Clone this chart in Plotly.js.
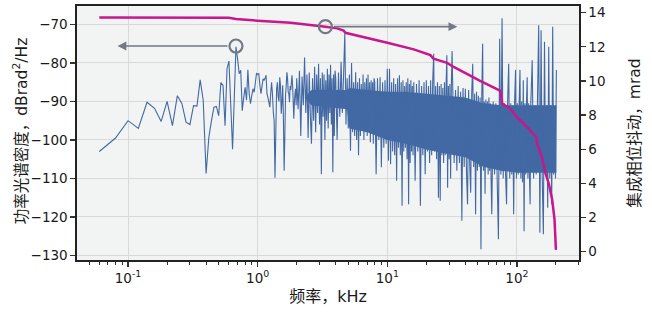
<!DOCTYPE html>
<html>
<head>
<meta charset="utf-8">
<script src="https://cdn.plot.ly/plotly-3.0.1.min.js"></script>
<style>html,body{margin:0;padding:0;background:#fff;}#chart{width:652px;height:316px;}</style>
</head>
<body>
<div id="chart"></div>
<script>
// ---- PSD, low-frequency part: FFT bins from 0.06 kHz, 0.02 kHz apart ----
const psdStart = 0.06;
const psdStep = 0.02;
const psdLowDb = [
  -103.0,-99.5,-95.0,-97.0,-90.2,-91.8,-95.2,-90.0,-96.3,-88.5,
  -90.5,-95.4,-96.0,-91.1,-91.2,-84.4,-89.7,-108.7,-99.3,-95.0,
  -91.5,-91.3,-93.7,-85.1,-85.8,-96.3,-81.5,-79.5,-91,-102.4,
  -89,-75.8,-79,-82.8,-81.9,-92.4,-89,-86.3,-89.7,-81.8,
  -88.0,-90.6,-88.5,-86.7,-87.6,-85,-82.6,-83,-82.8,-85.8,
  -88.0,-86,-84.1,-84.5,-84,-83.2,-88.0,-89,-90.2,-91.5,
  -88,-85.0,-88,-92.8,-95,-109.8,-98,-86.7,-85,-88.9,
  -90,-83.7,-86,-93.2,-90,-85.8,-95,-108,-99,-88.4,
  -86,-82.4,-84,-87.6,-88,-90.2,-86,-87,-85,-83.2,
  -86,-90,-94.5,-90,-88,-86.7,-91
];
// ---- PSD, dense part: decimated bins per octave ----
const segStart = [2, 4, 8, 16, 32, 64, 128];
const segStep  = [0.05, 0.1, 0.2, 0.4, 0.8, 1.6, 3.2];
const oct1Db = [-84,-92,-82,-99,-83.5,-91,-78.6,-93,-83,-99.5,-82.5,-94,-101,-84,-95,-81,-98,-83,-93,-80.2,-96,-84,-108.9,-82.5,-94,-83,-100,-84.5,-95,-81.5,-97,-83,-93,-80.5,-96,-84,-108.4,-83,-99,-82];
const oct2Db = [-84,-100,-82.5,-94,-79.7,-93,-83,-72.4,-96,-84,-97,-83,-102.8,-80,-98,-85,-99,-82.4,-100,-85,-104,-84,-99,-85.5,-97,-83,-100,-85,-98,-84,-99,-83,-97,-85,-100.6,-84.5,-98,-85,-101,-84];
const oct3Db = [-85,-108.9,-84,-100,-83.7,-107.1,-85,-102,-84.5,-101,-81.5,-105.4,-81.5,-106.3,-85,-103,-84,-104,-85.5,-110.6,-84,-102,-83.2,-104,-85,-117.1,-84.5,-103,-86,-102,-85,-105,-84,-116.7,-85.5,-106,-84.5,-103,-86,-104];
const oct4Db = [-85,-110.6,-85.5,-103,-84.5,-117.1,-86,-104,-85,-108.9,-84.5,-103,-86,-106,-84.5,-104,-85,-77.6,-103,-86,-105,-85,-115,-86,-115.8,-85.5,-104,-86.5,-106,-85,-104,-86,-78,-112.4,-86,-105,-85.5,-110,-86,-76.9];
const oct5Db = [-86.5,-106,-87,-108,-86,-106,-87.5,-121,-86.5,-107,-86.7,-108,-116.7,-87,-106,-113.7,-88,-80.2,-107,-88,-119.3,-87.5,-108,-88.5,-107,-89,-128.4,-88,-75,-108,-90,-114,-89.5,-107,-90,-109,-89,-108,-90.5,-110];
const oct6Db = [-119.3,-90,-109,-90.5,-110,-125.8,-73.7,-109,-68.4,-110,-90.5,-108,-116.7,-90,-80.2,-110,-90.5,-109,-91,-119.3,-90,-81.8,-110,-90.5,-109,-91,-81.8,-110,-90,-111,-84.5,-123.7,-90.5,-109,-91,-83.7,-110,-90.5,-108,-116.7];
const oct7Db = [-90.5,-79.3,-110,-91,-109,-90.5,-70.2,-124.1,-71.5,-110,-124.5,-74.5,-109,-91,-117.6,-75.8,-110,-91,-116.7,-70.6,-109,-91.5,-110,-81.8];
const segDb = [oct1Db, oct2Db, oct3Db, oct4Db, oct5Db, oct6Db, oct7Db];

// ---- Solid core of the dense PSD band (where the trace overlaps itself) ----
const coreFreq = [2.3, 2.6, 4.9, 5.1, 7, 10, 14, 20, 28, 40, 55, 75, 100, 150, 201.6];
const coreTop  = [-89, -87, -87, -86.5, -87, -87.5, -87.5, -88, -88.5, -89, -90.5, -91, -91, -91, -91];
const coreBot  = [-89, -91, -92, -97, -98, -100, -101, -102.5, -103.5, -104.5, -107, -108, -108.5, -108.5, -108.5];

// ---- Integrated phase jitter (right axis) ----
const jitFreq = [0.06,0.6,0.68,1.0,1.8,3.33,4.1,4.6,4.75,10,16,21.5,22.7,28.9,32.5,52,55,72,74.5,76.9,89,100,120,141,143,147,156,166,176,187,195,200];
const jitMrad = [13.71,13.70,13.63,13.53,13.41,13.18,13.08,12.95,12.82,12.24,11.85,11.51,11.3,11.06,10.82,10.0,9.92,9.47,9.42,8.67,8.38,7.88,7.3,6.7,6.3,6.12,5.53,4.6,4.0,3.05,1.9,0.1];

// ---- Axis-marker circles and arrow targets ----
const markFreq = [0.68, 3.33];
const markVal  = [-75.6, 13.18];   // first on left axis, second on right axis
const arrowToFreq = [0.083, 34.7];

const xTickVals = [0.1, 1, 10, 100];
const xTickText = ['10<sup>-1</sup>','10<sup>0</sup>','10<sup>1</sup>','10<sup>2</sup>'];
const yLeftTicks = [-130,-120,-110,-100,-90,-80,-70];

// build PSD trace
const psdX = [], psdY = [];
psdLowDb.forEach((v, i) => { psdX.push(+(psdStart + i * psdStep).toFixed(4)); psdY.push(v); });
segDb.forEach((arr, k) => arr.forEach((v, i) => { psdX.push(+(segStart[k] + i * segStep[k]).toFixed(4)); psdY.push(v); }));

const font = 'DejaVu Sans, Noto Sans CJK SC, sans-serif';
const gray = '#737a84';
const blue = '#4269a3';

const traces = [
  { x: coreFreq, y: coreBot, type: 'scatter', mode: 'lines', line: { width: 0, color: blue }, hoverinfo: 'skip', xaxis: 'x', yaxis: 'y' },
  { x: coreFreq, y: coreTop, type: 'scatter', mode: 'lines', line: { width: 0, color: blue }, fill: 'tonexty', fillcolor: blue, hoverinfo: 'skip', xaxis: 'x', yaxis: 'y' },
  { x: psdX, y: psdY, type: 'scatter', mode: 'lines', line: { color: blue, width: 1.1, simplify: false }, hoverinfo: 'skip', xaxis: 'x', yaxis: 'y' },
  { x: jitFreq, y: jitMrad, type: 'scatter', mode: 'lines', line: { color: '#c8168c', width: 2.5, simplify: false }, xaxis: 'x', yaxis: 'y2' },
  { x: [markFreq[0]], y: [markVal[0]], type: 'scatter', mode: 'markers', marker: { symbol: 'circle-open', size: 13, color: gray, line: { width: 2.2, color: gray } }, xaxis: 'x', yaxis: 'y' },
  { x: [markFreq[1]], y: [markVal[1]], type: 'scatter', mode: 'markers', marker: { symbol: 'circle-open', size: 13, color: gray, line: { width: 2.2, color: gray } }, xaxis: 'x', yaxis: 'y2' }
];

const annotations = [
  { x: Math.log10(arrowToFreq[0]), y: markVal[0], ax: Math.log10(markFreq[0]), ay: markVal[0], xref: 'x', yref: 'y', axref: 'x', ayref: 'y',
    text: '', showarrow: true, arrowhead: 2, arrowsize: 1.1, arrowwidth: 1.6, arrowcolor: gray, startstandoff: 7 },
  { x: Math.log10(arrowToFreq[1]), y: markVal[1], ax: Math.log10(markFreq[1]), ay: markVal[1], xref: 'x', yref: 'y2', axref: 'x', ayref: 'y2',
    text: '', showarrow: true, arrowhead: 2, arrowsize: 1.1, arrowwidth: 1.6, arrowcolor: gray, startstandoff: 7 },
  { text: '功率光谱密度，dBrad<sup>2</sup>/Hz', xref: 'paper', yref: 'paper', x: -0.112, y: 0.51,
    xanchor: 'center', yanchor: 'middle', textangle: -90, showarrow: false, font: { size: 15.5, family: font, color: '#1a1a1a' } }
];

const layout = {
  width: 652, height: 316,
  margin: { l: 77, r: 73, t: 6, b: 56 },
  paper_bgcolor: '#ffffff', plot_bgcolor: '#f2f3f3',
  showlegend: false,
  font: { family: font, size: 13, color: '#1a1a1a' },
  xaxis: {
    type: 'log', range: [-1.394, 2.479],
    tickmode: 'array', tickvals: xTickVals, ticktext: xTickText,
    ticks: 'outside', ticklen: 5, tickwidth: 1.2, tickcolor: '#333',
    minor: { ticks: 'outside', ticklen: 3, tickwidth: 1, tickcolor: '#333', dtick: 'D1', showgrid: false },
    showgrid: true, gridcolor: '#d9d9d9', gridwidth: 1,
    showline: true, linecolor: '#222', linewidth: 1.6, mirror: true,
    zeroline: false,
    tickfont: { size: 13.5 },
    title: { text: '频率，kHz', font: { size: 16 }, standoff: 6 }
  },
  yaxis: {
    range: [-131.2, -65.2],
    tickmode: 'array', tickvals: yLeftTicks,
    ticks: 'outside', ticklen: 5, tickwidth: 1.2, tickcolor: '#333',
    showgrid: true, gridcolor: '#d9d9d9', gridwidth: 1,
    showline: true, linecolor: '#222', linewidth: 1.6,
    zeroline: false,
    tickfont: { size: 13.5 }
  },
  yaxis2: {
    overlaying: 'y', side: 'right', anchor: 'x',
    range: [-0.49, 14.39], tick0: 0, dtick: 2,
    ticks: 'outside', ticklen: 5, tickwidth: 1.2, tickcolor: '#333',
    showgrid: false, zeroline: false,
    showline: true, linecolor: '#222', linewidth: 1.6,
    tickfont: { size: 13.5 },
    title: { text: '集成相位抖动，mrad', font: { size: 15.5 }, standoff: 24 }
  },
  annotations: annotations
};

Plotly.newPlot('chart', traces, layout, { staticPlot: true, displayModeBar: false });
</script>
</body>
</html>
